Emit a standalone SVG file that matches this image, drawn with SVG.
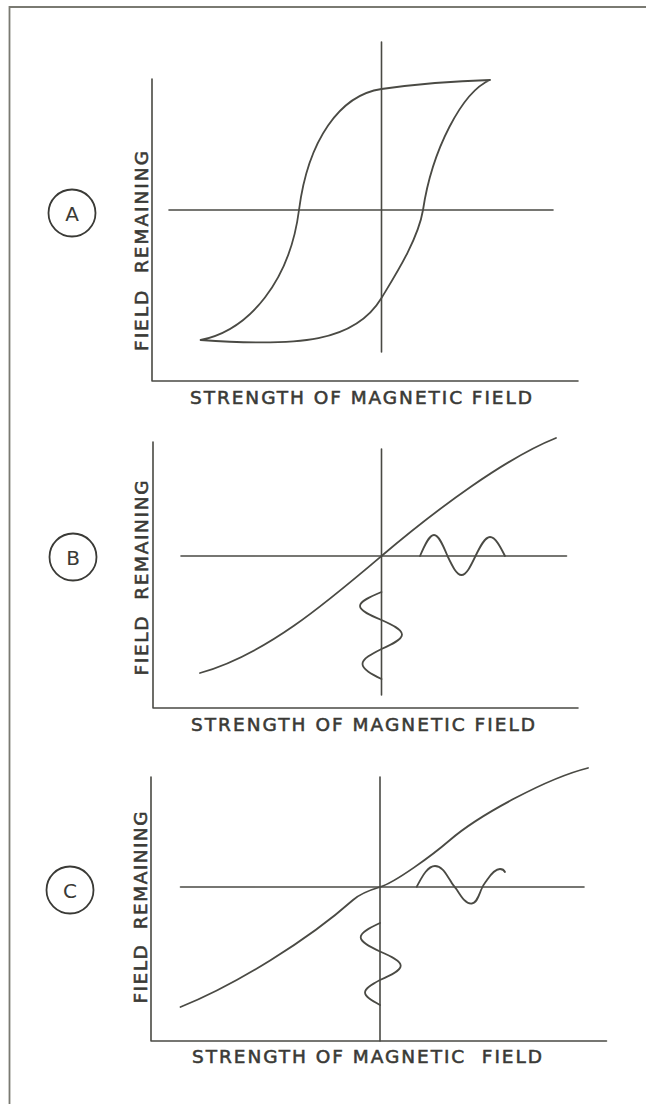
<svg xmlns="http://www.w3.org/2000/svg" width="646" height="1104" viewBox="0 0 646 1104">
<style>
.ln{fill:none;stroke:#4a4a44;stroke-width:1.6;stroke-linecap:round;stroke-linejoin:round}
.cv{fill:none;stroke:#4a4a44;stroke-width:1.8;stroke-linecap:round;stroke-linejoin:round}
.frame{fill:none;stroke:#7a7a72;stroke-width:1.8}
.lbl{font-family:"DejaVu Sans","Liberation Sans",sans-serif;font-size:18.5px;fill:#3a3a36;stroke:#3a3a36;stroke-width:0.55}
.tag{font-family:"DejaVu Sans","Liberation Sans",sans-serif;font-size:20px;fill:#3a3a36;text-anchor:middle}
.ring{fill:none;stroke:#3a3a36;stroke-width:1.8}
</style>
<rect width="646" height="1104" fill="#ffffff"/>
<path class="frame" d="M9.5,1104 V7 H646"/>

<g id="panel-a">
<circle class="ring" cx="72" cy="213" r="23.5"/>
<text class="tag" x="72" y="220.5">A</text>
<text class="lbl" xml:space="preserve" transform="translate(148,251) rotate(-90)" text-anchor="middle" textLength="200" lengthAdjust="spacing">FIELD  REMAINING</text>
<path class="ln" d="M152,79 V381 H578"/>
<path class="ln" d="M381.5,42 V352"/>
<path class="ln" d="M169,210 H553"/>
<path class="cv" d="M490,80 C455,81 410,85 381.5,89 C340,95 308,140 299,210 C290,280 250,330 200.6,340 C300,347 355,342 381.5,298 C394.5,276.4 418,240 423,210 C432,150 462,92 490,80"/>
<text class="lbl" x="190" y="404" textLength="342" lengthAdjust="spacing">STRENGTH OF MAGNETIC FIELD</text>
</g>

<g id="panel-b">
<circle class="ring" cx="73" cy="557" r="23.5"/>
<text class="tag" x="73" y="564.5">B</text>
<text class="lbl" xml:space="preserve" transform="translate(148,578) rotate(-90)" text-anchor="middle" textLength="195" lengthAdjust="spacing">FIELD  REMAINING</text>
<path class="ln" d="M153,442 V708 H578"/>
<path class="ln" d="M381.5,449 V695"/>
<path class="ln" d="M181,556 H566.5"/>
<path class="cv" d="M200,673 C265,655 325,604 381.5,556 C438,508 506,458 556,438"/>
<path class="cv" d="M420,556 C424.6,545.2 429.1,535 434,535 C438.8,535 443.1,545.2 447.5,556 C452.1,565.7 456.6,575 461.5,575 C466.4,575 470.9,565.7 475.5,556 C480.2,546.3 484.9,537 490,537 C495.3,537 500.1,546.3 505,556"/>
<path class="cv" d="M381.5,592 C370.5,596.6 360,601.1 360,606 C360,610.9 370.5,615.4 381.5,620 C392,624.7 402,629.4 402,634.5 C402,639.6 392,644.3 381.5,649 C371.8,653.9 362.5,658.7 362.5,664 C362.5,669.3 371.8,674.1 381.5,679"/>
<text class="lbl" x="191" y="731" textLength="344" lengthAdjust="spacing">STRENGTH OF MAGNETIC FIELD</text>
</g>

<g id="panel-c">
<circle class="ring" cx="70" cy="890" r="23.5"/>
<text class="tag" x="70" y="897.5">C</text>
<text class="lbl" xml:space="preserve" transform="translate(147,907.5) rotate(-90)" text-anchor="middle" textLength="192" lengthAdjust="spacing">FIELD  REMAINING</text>
<path class="ln" d="M151,777 V1041 H606.5"/>
<path class="ln" d="M380,777 V1041"/>
<path class="ln" d="M180.5,887 H584"/>
<path class="cv" d="M180.5,1007 C235.5,985 308,940 353,900 C361,892.8 371,889.7 380,887 C395,882.5 432,855.5 450,840 C480,814.2 548,778 588,768"/>
<path class="cv" d="M416.7,886.7 C421,879 427,866 435,866 C442,866 446,874 450,880 C452,884 454,886 457,890 C462,898 466,904 471.7,903.5 C477,903 479,895 481.5,889 C483,885 485,883 487,880 C491,874 495,869 500,869 C503,869 504,870 505,872"/>
<path class="cv" d="M380,923 C370.1,927.6 360.7,932.2 360.7,937.25 C360.7,942.3 370.1,946.9 380,951.5 C390.6,956.1 400.7,960.7 400.7,965.75 C400.7,970.8 390.6,975.4 380,980 C372.3,984.1 365,988.1 365,992.5 C365,996.9 372.3,1000.9 380,1005"/>
<text class="lbl" xml:space="preserve" x="192" y="1063" textLength="350" lengthAdjust="spacing">STRENGTH OF MAGNETIC  FIELD</text>
</g>
</svg>
